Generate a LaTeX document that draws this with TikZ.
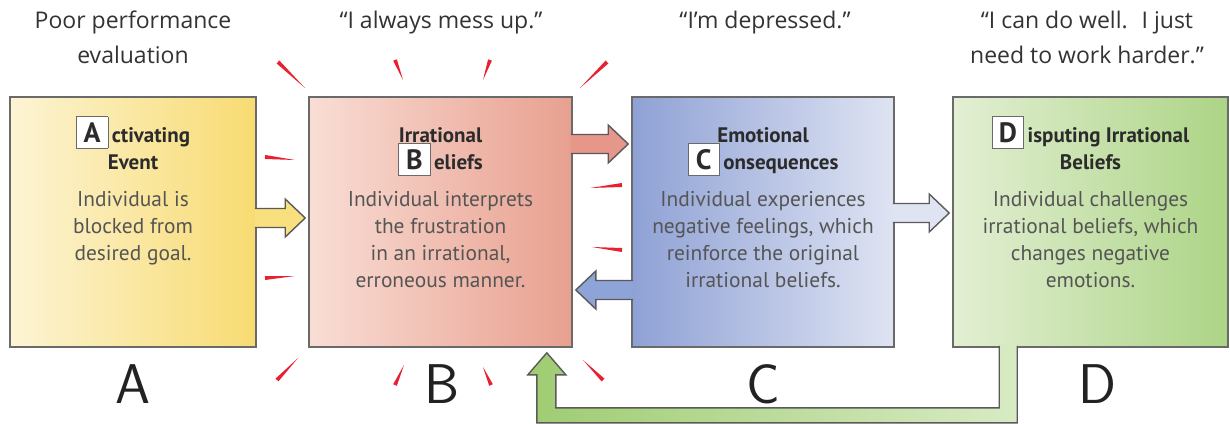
\documentclass[tikz,border=0pt]{standalone}
\usepackage{fontspec}
\setmainfont{PT Sans}
\newfontfamily\quotefont{Open Sans}
\usetikzlibrary{calc,positioning}

\definecolor{framegray}{HTML}{6A6A6A}
\definecolor{arrowink}{HTML}{5A5A5A}
\definecolor{titleink}{HTML}{2B2B2B}
\definecolor{bodyink}{HTML}{555555}
\definecolor{quoteink}{HTML}{333333}
\definecolor{letterink}{HTML}{222222}
\definecolor{rayred}{HTML}{E8202F}
\definecolor{ayl}{HTML}{FCF4D4}
\definecolor{ayr}{HTML}{F8DB72}
\definecolor{bpl}{HTML}{F9DDD5}
\definecolor{bpr}{HTML}{E8A08F}
\definecolor{cbl}{HTML}{8FA1D5}
\definecolor{cbr}{HTML}{DFE4F3}
\definecolor{dgl}{HTML}{E3EFD3}
\definecolor{dgr}{HTML}{ACD486}
\definecolor{yelarrow}{HTML}{F8E07E}
\definecolor{pinkarrow}{HTML}{E6978A}
\definecolor{bluearrow}{HTML}{8EA3D8}
\definecolor{palearrow}{HTML}{DFE4F3}
\definecolor{fbdark}{HTML}{9FCC72}
\definecolor{fblight}{HTML}{D8EBC4}

\tikzset{
  stage/.style={draw=framegray, line width=0.8pt, minimum height=125pt, inner sep=0pt},
  heading/.style={align=center, anchor=north, inner sep=0pt, text=titleink,
    font=\fontsize{10.5}{13.5}\selectfont\bfseries},
  detail/.style={align=center, anchor=north, inner sep=0pt, text=bodyink,
    font=\fontsize{10.7}{13.5}\selectfont},
  remark/.style={align=center, anchor=north, inner sep=0pt, text=quoteink,
    font=\quotefont\fontsize{11.5}{17.5}\selectfont},
  bigletter/.style={anchor=base, inner sep=0pt, text=letterink,
    font=\sffamily\fontsize{28}{28}\selectfont},
  fatline/.style={draw=arrowink, line width=0.7pt, line join=miter},
}

% boxed first letter of a heading
\newcommand\initial[1]{\smash{\setlength\fboxsep{1.2pt}%
  \fcolorbox{framegray}{white}{\makebox[13pt]{\rule[-1.5pt]{0pt}{13pt}\fontsize{14}{14}\selectfont #1}}}\,}

% block arrow from #1 to #2 (horizontal), filled with #3
\newcommand\fatarrow[3]{%
  \draw[fatline, fill=#3] let \p1=(#1), \p2=(#2), \n1={sign(\x2-\x1)} in
    ({\x1-(\n1)*1pt},{\y1+4.75pt}) -- ({\x2-(\n1)*11.5pt},{\y1+4.75pt})
    -- ({\x2-(\n1)*11.5pt},{\y1+9.5pt}) -- ({\x2-(\n1)*1.5pt},\y1)
    -- ({\x2-(\n1)*11.5pt},{\y1-9.5pt}) -- ({\x2-(\n1)*11.5pt},{\y1-4.75pt})
    -- ({\x1-(\n1)*1pt},{\y1-4.75pt});}

\begin{document}
\begin{tikzpicture}[x=0.5pt, y=-0.5pt]
  \fill[white] (0,0) rectangle (1230,423);
  \useasboundingbox (0,0) rectangle (1230,423);

  % rays round the beliefs box
  \foreach \xa/\ya/\xb/\yb in {278/62/305/88, 395/60/403/80, 490/60/483/80, 607/62/580/88,
      265/157/295/160, 265/278/295/276, 622/185/590/188, 622/250/592/247,
      277/380/298/358, 395/385/404/365, 491/385/483/367, 603/380/583/360}
    \fill[rayred] let \p1=(\xa,\ya), \p2=(\xb,\yb), \n1={atan2(\y2-\y1,\x2-\x1)} in
      ($(\p1)+(\n1+90:1pt)$) -- ($(\p1)+(\n1-90:1pt)$) -- (\p2) -- cycle;

  % the four stages
  \node[stage, left color=ayl, right color=ayr, minimum width=123pt] (A) at (133,222) {};
  \node[stage, left color=bpl, right color=bpr, minimum width=131.5pt] (B) at (440.5,222) {};
  \node[stage, left color=cbl, right color=cbr, minimum width=131pt] (C) at (763,222) {};
  \node[stage, left color=dgl, right color=dgr, minimum width=137.5pt] (D) at (1090.5,222) {};

  \node[heading] (At) at ([yshift=-15.5pt]A.north) {\initial{A}ctivating\\Event};
  \node[detail] (Ab) at ([yshift=-47.5pt]A.north) {Individual is\\blocked from\\desired goal.};
  \node[heading] (Bt) at ([yshift=-15.5pt]B.north) {Irrational\\\initial{B}eliefs};
  \node[detail] (Bb) at ([yshift=-47.5pt]B.north) {Individual interprets\\the frustration\\in an irrational,\\erroneous manner.};
  \node[heading] (Ct) at ([yshift=-15.5pt]C.north) {Emotional\\\initial{C}onsequences};
  \node[detail] (Cb) at ([yshift=-47.5pt]C.north) {Individual experiences\\negative feelings, which\\reinforce the original\\irrational beliefs.};
  \node[heading] (Dt) at ([yshift=-15.5pt]D.north) {\initial{D}isputing Irrational\\Beliefs};
  \node[detail] (Db) at ([yshift=-47.5pt]D.north) {Individual challenges\\irrational beliefs, which\\changes negative\\emotions.};

  % what the person says
  \node[remark] (qa) at (133,11) {Poor performance\\evaluation};
  \node[remark] (qb) at (441,11) {“I always mess up.”};
  \node[remark] (qc) at (765,11) {“I’m depressed.”};
  \node[remark] (qd) at (1087,11) {“I can do well.~ I just\\need to work harder.”};

  % arrows between stages
  \fatarrow{A.east |- 0,218}{B.west |- 0,218}{yelarrow}
  \fatarrow{B.east |- 0,144}{C.west |- 0,144}{pinkarrow}
  \fatarrow{C.west |- 0,290}{B.east |- 0,290}{bluearrow}
  \fatarrow{C.east |- 0,213}{D.west |- 0,213}{palearrow}

  % feedback from D back to B
  \coordinate (stem) at ($(D.south west)+(47,0)$);
  \coordinate (tip) at ($(B.south east)+(-26,5)$);
  \draw[fatline, left color=fbdark, right color=fblight] ($(stem)+(0,-2)$) |- ($(tip)+(9,55)$)
    -- ++(0,-33) -- ++(10,0) -- (tip) -- ++(-19,22) -- ++(9,0) |- ($(stem)+(18,75)$) -- ++(0,-77);

  % stage letters
  \node[bigletter] (la) at (A.south |- 0,403) {A};
  \node[bigletter] (lb) at (442,403) {B};
  \node[bigletter] (lc) at (C.south |- 0,403) {C};
  \node[bigletter] (ld) at (1097,403) {D};
\end{tikzpicture}
\end{document}
